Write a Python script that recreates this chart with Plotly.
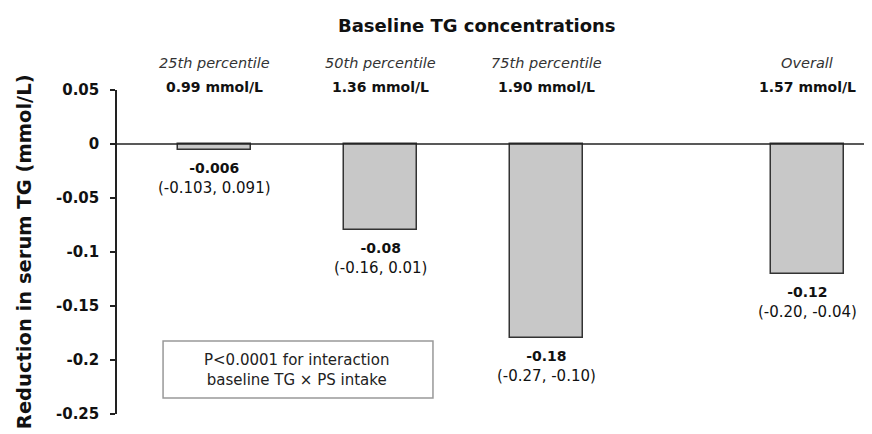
import plotly.graph_objects as go

# ---- data ----
categories = ["25th percentile", "50th percentile", "75th percentile", "Overall"]
baseline_tg = ["0.99 mmol/L", "1.36 mmol/L", "1.90 mmol/L", "1.57 mmol/L"]
reduction = [-0.006, -0.08, -0.18, -0.12]
value_labels = ["-0.006", "-0.08", "-0.18", "-0.12"]
ci_labels = ["(-0.103, 0.091)", "(-0.16, 0.01)", "(-0.27, -0.10)", "(-0.20, -0.04)"]
y_tickvals = [0.05, 0, -0.05, -0.1, -0.15, -0.2, -0.25]
y_ticktext = ["0.05", "0", "-0.05", "-0.1", "-0.15", "-0.2", "-0.25"]

# layout positions of groups (the "Overall" group sits apart)
group_pos = [0, 1, 2, 3.57]

FONT = "DejaVu Sans"

fig = go.Figure()
fig.add_trace(go.Bar(
    x=group_pos, y=reduction, width=0.44,
    marker=dict(color="#c8c8c8", line=dict(color="#333333", width=1.5)),
    hoverinfo="skip", showlegend=False,
))

annotations = []
for xp, cat, base, val, vl, ci in zip(group_pos, categories, baseline_tg, reduction, value_labels, ci_labels):
    annotations.append(dict(x=xp, xref="x", y=1.083, yref="paper", text=f"<i>{cat}</i>",
                            showarrow=False, font=dict(family=FONT, size=14.5, color="#333333"),
                            yanchor="middle"))
    annotations.append(dict(x=xp, xref="x", y=1.009, yref="paper", text=f"<b>{base}</b>",
                            showarrow=False, font=dict(family=FONT, size=14, color="#111111"),
                            yanchor="middle"))
    annotations.append(dict(x=xp, xref="x", y=val, yref="y",
                            text=f"<b><span style='font-size:14px'>{vl}</span></b><br>{ci}",
                            showarrow=False,
                            font=dict(family=FONT, size=15, color="#111111"),
                            yanchor="top", yshift=-8))

annotations.append(dict(x=0.477, xref="paper", y=1.2, yref="paper",
                        text="<b>Baseline TG concentrations</b>", showarrow=False,
                        font=dict(family=FONT, size=18, color="#111111"), yanchor="middle"))
annotations.append(dict(x=-0.123, xref="paper", y=0.5, yref="paper",
                        text="<b>Reduction in serum TG (mmol/L)</b>", showarrow=False,
                        textangle=-90, font=dict(family=FONT, size=19.5, color="#111111"),
                        xanchor="center", yanchor="middle"))
annotations.append(dict(x=0.2384, xref="paper", y=-0.2093, yref="y", xanchor="center",
                        text="P<0.0001 for interaction<br>baseline TG × PS intake",
                        showarrow=False, font=dict(family=FONT, size=15, color="#222222"),
                        yanchor="middle"))

fig.update_layout(
    width=864, height=426,
    margin=dict(l=109, r=0, t=82, b=20),
    paper_bgcolor="white", plot_bgcolor="white",
    font=dict(family=FONT, color="#111111"),
    annotations=annotations,
    shapes=[
        dict(type="rect", xref="paper", yref="y", x0=0.061, x1=0.4185, y0=-0.2352, y1=-0.1824,
             line=dict(color="#999999", width=1.5), fillcolor="rgba(0,0,0,0)"),
        dict(type="line", xref="paper", yref="y", x0=-0.006, x1=1, y0=0, y1=0,
             line=dict(color="#222222", width=1.5)),
    ],
    xaxis=dict(range=[-0.59, 3.96], showticklabels=False, showgrid=False, zeroline=False,
               showline=False, ticks=""),
    yaxis=dict(range=[-0.25, 0.05], tickvals=y_tickvals,
               ticktext=[f"<b>{t}</b>" for t in y_ticktext],
               showgrid=False, zeroline=False, showline=True, linecolor="#222222", linewidth=1.5,
               ticks="outside", ticklen=5, tickcolor="#222222", tickwidth=1.5,
               tickfont=dict(family=FONT, size=15, color="#111111"), ticklabelstandoff=8),
    bargap=0,
)

fig.write_html("out.html")
